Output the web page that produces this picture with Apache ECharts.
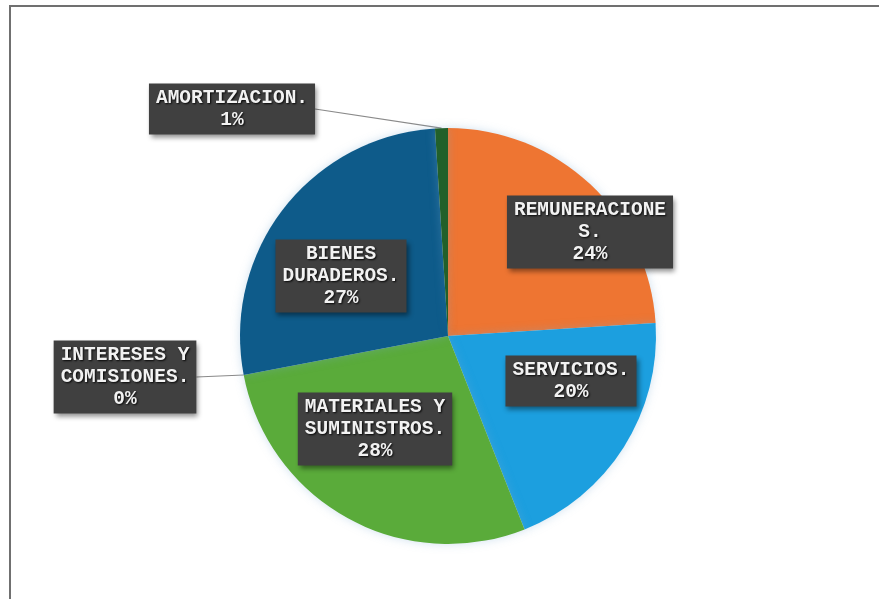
<!DOCTYPE html>
<html>
<head>
<meta charset="utf-8">
<title>Distribución del gasto</title>
<script src="https://cdn.jsdelivr.net/npm/echarts@6/dist/echarts.min.js"></script>
<style>
  html, body { margin: 0; padding: 0; background: #ffffff; }
  #frame {
    position: absolute; left: 9px; top: 5px; right: -4px; bottom: -4px;
    border-top: 2px solid #707070; border-left: 2px solid #707070;
  }
  #chart { position: absolute; left: 0; top: 0; width: 879px; height: 599px; }
</style>
</head>
<body>
<div id="frame"></div>
<div id="chart"></div>
<script>
// Spending categories, clockwise from twelve o'clock
const categories = [
  'REMUNERACIONES',
  'SERVICIOS',
  'MATERIALES Y SUMINISTROS',
  'INTERESES Y COMISIONES',
  'BIENES DURADEROS',
  'AMORTIZACION'
];
// Share of total spending, in percent
const shares = [24, 20, 28, 0, 27, 1];
// Label text as wrapped on the callouts
const labelText = [
  'REMUNERACIONE\nS.',
  'SERVICIOS.',
  'MATERIALES Y\nSUMINISTROS.',
  'INTERESES Y\nCOMISIONES.',
  'BIENES\nDURADEROS.',
  'AMORTIZACION.'
];

const colors = ['#ee7532', '#1c9fdf', '#5aab3a', '#4a4a4a', '#0e5b8a', '#22602a'];
// Callout centres (px) and whether they sit outside the pie
const calloutPos = [[590, 232], [571, 381], [375, 429], [125, 377], [341, 276], [232, 109]];
const outside = [false, false, false, true, false, true];

const chart = echarts.init(document.getElementById('chart'), null, { renderer: 'canvas' });

const data = categories.map((name, i) => ({
  name: name,
  value: shares[i],
  itemStyle: { color: colors[i] },
  label: { position: outside[i] ? 'outside' : 'inside' },
  labelLine: { show: outside[i] }
}));

chart.setOption({
  animation: false,
  series: [{
    type: 'pie',
    center: [448, 336],
    radius: 208,
    startAngle: 90,
    clockwise: true,
    avoidLabelOverlap: false,
    data: data,
    itemStyle: {
      borderWidth: 0,
      shadowColor: 'rgba(120,170,210,0.35)',
      shadowBlur: 10
    },
    label: {
      show: true,
      formatter: p => labelText[p.dataIndex] + '\n' + Math.round(p.percent) + '%',
      fontFamily: '"Liberation Mono", "Courier New", monospace',
      fontWeight: 'bold',
      fontSize: 19.5,
      lineHeight: 22,
      color: '#f2f2f2',
      textShadowColor: 'rgba(0,0,0,0.9)',
      textShadowBlur: 2,
      textShadowOffsetX: 1,
      textShadowOffsetY: 1,
      align: 'center',
      backgroundColor: '#404040',
      padding: [4, 7, 3, 7],
      shadowColor: 'rgba(0,0,0,0.45)',
      shadowBlur: 5,
      shadowOffsetX: 2,
      shadowOffsetY: 3
    },
    labelLine: {
      length: 20,
      length2: 0,
      smooth: false,
      lineStyle: { color: '#8a8a8a', width: 1.2 }
    },
    labelLayout: function (params) {
      const p = calloutPos[params.dataIndex];
      return { x: p[0], y: p[1], align: 'center', verticalAlign: 'middle' };
    },
    emphasis: { disabled: true }
  }]
});
</script>
</body>
</html>
